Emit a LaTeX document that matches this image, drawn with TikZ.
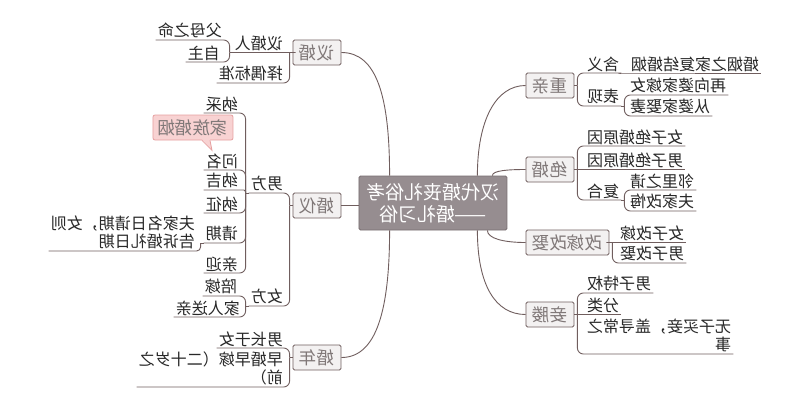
\documentclass[tikz,border=0pt]{standalone}
\usepackage{fontspec}
\setmainfont{Noto Sans CJK SC}
\usetikzlibrary{calc}
\definecolor{lnc}{RGB}{112,94,94}
\definecolor{ctrfill}{RGB}{150,141,144}
\definecolor{ctrdraw}{RGB}{120,110,113}
\definecolor{mainfill}{RGB}{243,241,241}
\definecolor{maintext}{RGB}{128,120,120}
\definecolor{subtext}{RGB}{40,40,40}
\definecolor{calloutfill}{RGB}{248,210,210}
\definecolor{calloutdraw}{RGB}{230,160,160}
\begin{document}
\begin{tikzpicture}[x=1pt,y=-1pt,xscale=-1,
  every node/.append style={transform shape},
  conn/.style={draw=lnc,line width=0.9pt,rounded corners=6pt},
  mconn/.style={draw=lnc,line width=0.9pt},
  ctrbox/.style={draw=ctrdraw,fill=ctrfill,text=white,line width=0.8pt,
    font=\fontsize{19pt}{22pt}\selectfont,align=center,
    minimum width=148pt,minimum height=54pt,inner sep=0pt,rounded corners=1.5pt},
  mainbox/.style={draw=lnc,fill=mainfill,text=maintext,line width=0.8pt,
    font=\fontsize{17.5pt}{20pt}\selectfont,minimum height=25pt,
    inner xsep=6.5pt,inner ysep=0pt,rounded corners=1.5pt},
  sub/.style={text=subtext,font=\fontsize{16pt}{18pt}\selectfont,
    inner xsep=2pt,inner ysep=1.5pt},
  subR/.style={sub,anchor=south west},
  subL/.style={sub,anchor=south east},
  calloutbox/.style={draw=calloutdraw,fill=calloutfill,text=maintext,line width=0.8pt,
    font=\fontsize{17.5pt}{20pt}\selectfont,minimum height=25pt,
    inner xsep=5pt,inner ysep=0pt,rounded corners=2pt}]
\fill[white] (0,0) rectangle (800,407);
\useasboundingbox (0,0) rectangle (800,407);

% centre and main topics
\node[ctrbox] (ctr) at (367,203) {汉代婚丧礼俗考\\——婚礼习俗};
\node[mainbox] (yh) at (483,52.5) {议婚};
\node[mainbox] (hy) at (483,205.5) {婚仪};
\node[mainbox] (hn) at (483,357.5) {婚年};
\node[mainbox] (zq) at (250,85.5) {重亲};
\node[mainbox] (jh) at (250,169.5) {绝婚};
\node[mainbox] (gj) at (232.5,242.5) {改嫁改娶};
\node[mainbox] (qy) at (250,314.5) {妾媵};

% right-hand subtopics
\node[subR] (yhr) at (515,52.5) {议婚人};
\node[subR] (zobz) at (515,83) {择偶标准};
\node[subR] (fmzm) at (576,40) {父母之命};
\node[subR] (zz) at (578,62) {自主};
\node[subR] (nf) at (515,193) {男方};
\node[subR] (nv) at (515,306) {女方};
\node[subR] (nc) at (560,113) {纳采};
\node[subR] (wm) at (560,170) {问名};
\node[subR] (nj) at (560,190) {纳吉};
\node[subR] (nzh) at (560,213) {纳征};
\node[subR] (qq) at (560,243) {请期};
\node[subR] (qyi) at (560,273) {亲迎};
\node[subR,align=left] (qqd) at (603,251) {夫家名日请期，女则\\告诉婚礼日期};
\node[subR] (pj) at (561,296) {陪嫁};
\node[subR] (jrsq) at (558,317) {家人送亲};
\node[subR] (nzyn) at (515,348) {男长于女};
\node[subR,align=left] (zhzj) at (515,387) {早婚早嫁（二十岁之\\前）};

% left-hand subtopics
\node[subL] (hyi) at (215,73) {含义};
\node[subL] (hyd) at (171,73) {婚姻之家复结婚姻};
\node[subL] (bx) at (215,106) {表现};
\node[subL] (zxpj) at (172,95) {再向婆家嫁女};
\node[subL] (cpjq) at (172,116) {从婆家娶妻};
\node[subL] (nvjh) at (215,146) {女子绝婚原因};
\node[subL] (nzjh) at (215,169.5) {男子绝婚原因};
\node[subL] (fh) at (215,200) {复合};
\node[subL] (llzq) at (172,190) {邻里之请};
\node[subL] (fjgh) at (172,211) {夫家改悔};
\node[subL] (nvgj) at (182,242.5) {女子改嫁};
\node[subL] (nzgq) at (182,263) {男子改娶};
\node[subL] (nztq) at (215,293) {男子特权};
\node[subL] (fl) at (215,314.5) {分类};
\node[subL,align=left] (wzmq) at (215,354) {无子买妾，盖寻常之\\事};

% callout
\node[calloutbox] (cl) at (607,127.5) {家族婚姻};
\fill[calloutfill] ($(cl.south)+(-17,-1.2)$) -- ($(cl.south)+(-19,10)$) -- ($(cl.south)+(-9,-1.2)$) -- cycle;
\draw[calloutdraw,line width=0.8pt] ($(cl.south)+(-17,0)$) -- ($(cl.south)+(-19,10)$) -- ($(cl.south)+(-9,0)$);

% main connectors
\draw[mconn] ($(ctr.north east)+(-31,0)$) .. controls +(0,-80) and +(-35,0) .. (yh.west);
\draw[mconn] (ctr.east |- hy.west) -- (hy.west);
\draw[mconn] ($(ctr.south east)+(-31,0)$) .. controls +(0,80) and +(-35,0) .. (hn.west);
\draw[mconn] ($(ctr.north west)+(30,0)$) .. controls +(0,-55) and +(30,0) .. (zq.east);
\draw[mconn] ($(ctr.north west)+(15,0)$) .. controls +(0,-5) and +(18,0) .. (jh.east);
\draw[mconn] ($(ctr.south west)+(20,0)$) .. controls +(0,8) and +(22,0) .. (gj.east);
\draw[mconn] ($(ctr.south west)+(30,0)$) .. controls +(0,55) and +(30,0) .. (qy.east);

% 议婚
\coordinate (j0) at ($(yh.east)+(3,0)$);
\draw[conn] (yh.east) -- (j0) -- (yhr.south east);
\draw[conn] (j0) |- (zobz.south east);
\coordinate (j01) at ($(yhr.south east)+(3,0)$);
\draw[conn] (yhr.south east) -- (j01);
\draw[conn] (j01) |- (fmzm.south east);
\draw[conn] (j01) |- (zz.south east);

% 婚仪
\coordinate (j1) at ($(hy.east)+(3,0)$);
\draw[conn] (hy.east) -- (j1);
\draw[conn] (j1) |- (nf.south east);
\draw[conn] (j1) |- (nv.south east);
\coordinate (j11) at ($(nf.south east)+(3,0)$);
\draw[conn] (nf.south east) -- (j11);
\draw[conn] (j11) |- (nc.south east);
\draw[conn] (j11) |- (wm.south east);
\draw[conn,rounded corners=1.5pt] (j11) |- (nj.south east);
\draw[conn] (j11) |- (nzh.south east);
\draw[conn] (j11) |- (qq.south east);
\draw[conn] (j11) |- (qyi.south east);
\coordinate (j111) at ($(qq.south east)+(3,0)$);
\draw[conn] (qq.south east) -- (j111);
\draw[conn,rounded corners=4pt] (j111) |- (qqd.south east);
\coordinate (j12) at ($(nv.south east)+(3,0)$);
\draw[conn] (nv.south east) -- (j12);
\draw[conn] (j12) |- (pj.south east);
\draw[conn] (j12) |- (jrsq.south east);

% 婚年
\coordinate (j2) at ($(hn.east)+(3,0)$);
\draw[conn] (hn.east) -- (j2);
\draw[conn] (j2) |- (nzyn.south east);
\draw[conn] (j2) |- (zhzj.south east);

% 重亲
\coordinate (j3) at ($(zq.west)+(-3,0)$);
\draw[conn] (zq.west) -- (j3);
\draw[conn] (j3) |- (hyi.south west);
\draw[conn] (j3) |- (bx.south west);
\coordinate (j31) at ($(hyi.south west)+(-3,0)$);
\draw[conn] (hyi.south west) -- (j31) -- (hyd.south west);
\coordinate (j32) at ($(bx.south west)+(-3,0)$);
\draw[conn] (bx.south west) -- (j32);
\draw[conn] (j32) |- (zxpj.south west);
\draw[conn] (j32) |- (cpjq.south west);

% 绝婚
\coordinate (j4) at ($(jh.west)+(-3,0)$);
\draw[conn] (jh.west) -- (j4);
\draw[conn] (j4) |- (nvjh.south west);
\draw[conn] (j4) -- (nzjh.south west);
\draw[conn] (j4) |- (fh.south west);
\coordinate (j41) at ($(fh.south west)+(-3,0)$);
\draw[conn] (fh.south west) -- (j41);
\draw[conn] (j41) |- (llzq.south west);
\draw[conn] (j41) |- (fjgh.south west);

% 改嫁改娶
\coordinate (j5) at ($(gj.west)+(-3,0)$);
\draw[conn] (gj.west) -- (j5) -- (nvgj.south west);
\draw[conn] (j5) |- (nzgq.south west);

% 妾媵
\coordinate (j6) at ($(qy.west)+(-3,0)$);
\draw[conn] (qy.west) -- (j6);
\draw[conn] (j6) |- (nztq.south west);
\draw[conn] (j6) -- (fl.south west);
\draw[conn] (j6) |- (wzmq.south west);
\end{tikzpicture}
\end{document}
